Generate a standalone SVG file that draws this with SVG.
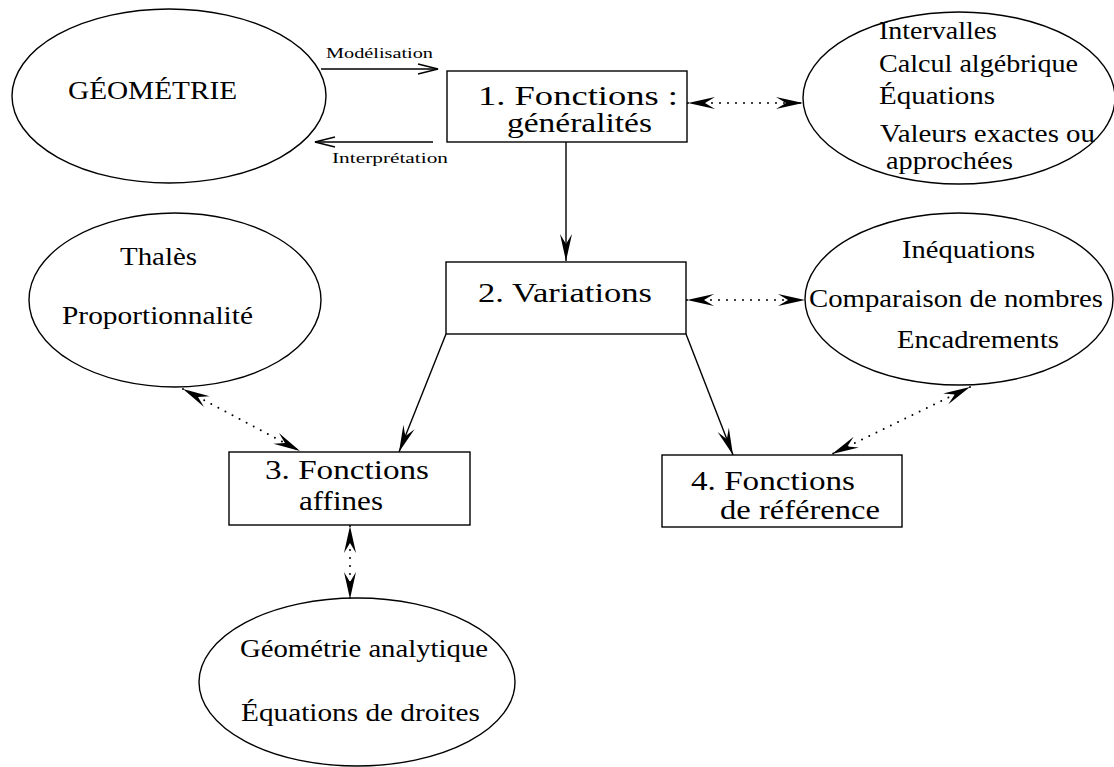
<svg xmlns="http://www.w3.org/2000/svg" width="1114" height="767" viewBox="0 0 1114 767">
<style>
  .shape { fill: #fff; stroke: #000; stroke-width: 1.4; }
  text { font-family: 'Liberation Serif', 'DejaVu Serif', serif; fill: #000; }
  .big { font-size: 27px; }
  .mid { font-size: 25px; }
  .small { font-size: 15px; }
  .solid { fill: none; stroke: #000; stroke-width: 1.4; }
  .dot { fill: none; stroke: #000; stroke-width: 2; stroke-linecap: round; stroke-dasharray: 0 8; }
</style>
<defs>
  <marker id="open" markerUnits="userSpaceOnUse" viewBox="-22 -7 24 14" refX="0" refY="0" markerWidth="24" markerHeight="14" orient="auto">
    <path d="M-20,-5 L0,0 L-20,5" fill="none" stroke="#000" stroke-width="1.4"/>
  </marker>
  <marker id="stealth" markerUnits="userSpaceOnUse" viewBox="-28 -7 29 14" refX="0" refY="0" markerWidth="29" markerHeight="14" orient="auto-start-reverse">
    <path d="M0,0 L-27,-6 L-17,0 L-27,6 Z" fill="#000"/>
  </marker>
</defs>

<g id="connectors">
  <line class="solid" x1="321" y1="69" x2="438" y2="69" marker-end="url(#open)"/>
  <line class="solid" x1="433" y1="142" x2="315" y2="142" marker-end="url(#open)"/>
  <line class="solid" x1="566" y1="142" x2="566" y2="261" marker-end="url(#stealth)"/>
  <line class="solid" x1="446" y1="334" x2="399" y2="452" marker-end="url(#stealth)"/>
  <line class="solid" x1="686" y1="334" x2="733" y2="455" marker-end="url(#stealth)"/>
  <line class="dot" x1="688" y1="103" x2="803" y2="103" marker-start="url(#stealth)" marker-end="url(#stealth)"/>
  <line class="dot" x1="687" y1="300" x2="805" y2="300" marker-start="url(#stealth)" marker-end="url(#stealth)"/>
  <line class="dot" x1="183" y1="389" x2="300" y2="451" marker-start="url(#stealth)" marker-end="url(#stealth)"/>
  <line class="dot" x1="350" y1="526" x2="350" y2="599" marker-start="url(#stealth)" marker-end="url(#stealth)"/>
  <line class="dot" x1="970" y1="387" x2="832" y2="454" marker-start="url(#stealth)" marker-end="url(#stealth)"/>
  <text class="small" x="326" y="58" textLength="107" lengthAdjust="spacingAndGlyphs">Modélisation</text>
  <text class="small" x="332" y="163" textLength="116" lengthAdjust="spacingAndGlyphs">Interprétation</text>
</g>

<g id="geometrie">
  <ellipse class="shape" cx="169" cy="96" rx="157" ry="87"/>
  <text class="mid" x="68" y="99" textLength="169" lengthAdjust="spacingAndGlyphs">GÉOMÉTRIE</text>
</g>

<g id="box1">
  <rect class="shape" x="447" y="71" width="240" height="71"/>
  <text class="big" x="478" y="105" textLength="200" lengthAdjust="spacingAndGlyphs">1. Fonctions :</text>
  <text class="big" x="507" y="132" textLength="145" lengthAdjust="spacingAndGlyphs">généralités</text>
</g>

<g id="outils1">
  <ellipse class="shape" cx="959" cy="98" rx="156" ry="86"/>
  <text class="mid" x="879" y="39" textLength="118" lengthAdjust="spacingAndGlyphs">Intervalles</text>
  <text class="mid" x="879" y="72" textLength="199" lengthAdjust="spacingAndGlyphs">Calcul algébrique</text>
  <text class="mid" x="879" y="104" textLength="116" lengthAdjust="spacingAndGlyphs">Équations</text>
  <text class="mid" x="880" y="142" textLength="215" lengthAdjust="spacingAndGlyphs">Valeurs exactes ou</text>
  <text class="mid" x="886" y="169" textLength="127" lengthAdjust="spacingAndGlyphs">approchées</text>
</g>

<g id="box2">
  <rect class="shape" x="446" y="262" width="240" height="72"/>
  <text class="big" x="478" y="302" textLength="174" lengthAdjust="spacingAndGlyphs">2. Variations</text>
</g>

<g id="thales">
  <ellipse class="shape" cx="175" cy="300" rx="146" ry="87"/>
  <text class="mid" x="120" y="265" textLength="77" lengthAdjust="spacingAndGlyphs">Thalès</text>
  <text class="mid" x="62" y="324" textLength="191" lengthAdjust="spacingAndGlyphs">Proportionnalité</text>
</g>

<g id="outils2">
  <ellipse class="shape" cx="959" cy="299" rx="154" ry="86"/>
  <text class="mid" x="902" y="258" textLength="133" lengthAdjust="spacingAndGlyphs">Inéquations</text>
  <text class="mid" x="809" y="307" textLength="294" lengthAdjust="spacingAndGlyphs">Comparaison de nombres</text>
  <text class="mid" x="897" y="348" textLength="162" lengthAdjust="spacingAndGlyphs">Encadrements</text>
</g>

<g id="box3">
  <rect class="shape" x="229" y="452" width="241" height="73"/>
  <text class="big" x="265" y="479" textLength="164" lengthAdjust="spacingAndGlyphs">3. Fonctions</text>
  <text class="big" x="299" y="510" textLength="84" lengthAdjust="spacingAndGlyphs">affines</text>
</g>

<g id="box4">
  <rect class="shape" x="662" y="455" width="240" height="72"/>
  <text class="big" x="691" y="490" textLength="164" lengthAdjust="spacingAndGlyphs">4. Fonctions</text>
  <text class="big" x="720" y="519" textLength="160" lengthAdjust="spacingAndGlyphs">de référence</text>
</g>

<g id="analytique">
  <ellipse class="shape" cx="357" cy="682" rx="158" ry="84"/>
  <text class="mid" x="240" y="657" textLength="248" lengthAdjust="spacingAndGlyphs">Géométrie analytique</text>
  <text class="mid" x="241" y="721" textLength="239" lengthAdjust="spacingAndGlyphs">Équations de droites</text>
</g>
</svg>
